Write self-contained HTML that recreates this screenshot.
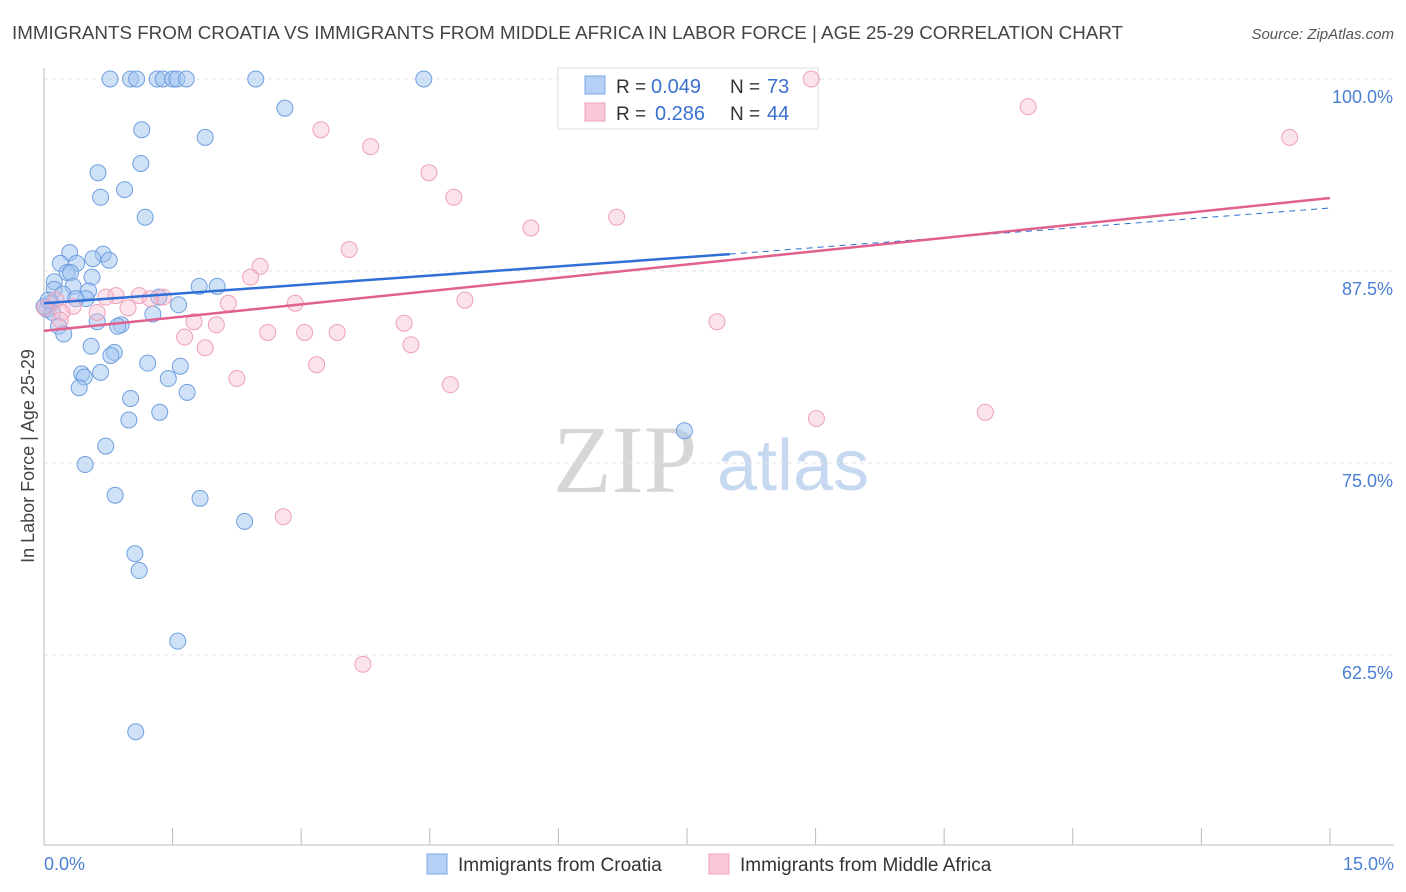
<!DOCTYPE html>
<html><head><meta charset="utf-8"><style>
body{margin:0;background:#fff;font-family:"Liberation Sans",sans-serif;}
svg{display:block}
</style></head><body>
<svg width="1406" height="892" viewBox="0 0 1406 892" xmlns="http://www.w3.org/2000/svg">
<text x="12" y="39" font-size="18.8" fill="#444">IMMIGRANTS FROM CROATIA VS IMMIGRANTS FROM MIDDLE AFRICA IN LABOR FORCE | AGE 25-29 CORRELATION CHART</text>
<text x="1394" y="39" font-size="15" fill="#555" font-style="italic" text-anchor="end">Source: ZipAtlas.com</text>
<g>
<text x="553" y="492" font-family="Liberation Serif,serif" font-size="96" fill="#d6d6d6">ZIP</text>
<text x="717" y="490" font-size="72" fill="#c6d9f0">atlas</text>
</g>
<g id="grid"></g>
<g id="axes"></g>
<g>
<rect x="558" y="68" width="260" height="61" fill="#fff" stroke="#ddd"/>
<rect x="585" y="76" width="20" height="18" fill="#b4d0f4" stroke="#7aa9e6"/>
<rect x="585" y="103" width="20" height="18" fill="#f8c8d8" stroke="#f0a3bd"/>
<text x="616" y="93" font-size="19" fill="#333">R =</text>
<text x="651" y="93" font-size="20" fill="#3a70cf">0.049</text>
<text x="730" y="93" font-size="19" fill="#333">N =</text>
<text x="767" y="93" font-size="20" fill="#3a70cf">73</text>
<text x="616" y="120" font-size="19" fill="#333">R =</text>
<text x="655" y="120" font-size="20" fill="#3a70cf">0.286</text>
<text x="730" y="120" font-size="19" fill="#333">N =</text>
<text x="767" y="120" font-size="20" fill="#3a70cf">44</text>
</g>
<g id="pts"></g>
<g id="trend"></g>
<text transform="translate(34,456) rotate(-90)" font-size="18" fill="#444" text-anchor="middle">In Labor Force | Age 25-29</text>
<text x="44" y="870" font-size="18" fill="#4a7fd4">0.0%</text>
<text x="1394" y="870" font-size="18" fill="#4a7fd4" text-anchor="end">15.0%</text>
<g>
<rect x="427" y="854" width="20" height="20" fill="#b4d0f4" stroke="#7aa9e6"/>
<text x="458" y="871" font-size="19" fill="#333">Immigrants from Croatia</text>
<rect x="709" y="854" width="20" height="20" fill="#f8c8d8" stroke="#f0a3bd"/>
<text x="740" y="871" font-size="19" fill="#333">Immigrants from Middle Africa</text>
</g>
</svg>
<script>
const yTicks=[100,87.5,75,62.5];
const yTickLabels=["100.0%","87.5%","75.0%","62.5%"];
const xTicks=[0,1.5,3,4.5,6,7.5,9,10.5,12,13.5,15];
const blueX=[0.77,1.01,1.08,1.32,1.39,1.50,1.55,1.66,2.47,4.43,2.81,1.14,1.88,1.13,0.63,0.94,0.66,1.18,0.30,0.69,0.57,0.76,0.19,0.38,0.27,0.31,0.56,0.12,0.12,0.34,0.52,0.22,1.81,2.02,1.34,0.49,0.37,0.08,1.57,0.03,0.10,1.27,0.62,0.90,0.86,0.17,0.23,0.55,0.82,0.78,1.21,1.59,0.44,0.66,0.47,1.45,0.41,1.67,1.01,1.35,0.99,0.72,0.48,0.83,1.82,2.34,1.06,1.11,1.56,1.07,7.47,0,0.05];
const blueY=[100,100,100,100,100,100,100,100,100,100,98.1,96.7,96.2,94.5,93.9,92.8,92.3,91.0,88.7,88.6,88.3,88.2,88.0,88.0,87.4,87.4,87.1,86.8,86.3,86.5,86.2,86.0,86.5,86.5,85.8,85.7,85.7,85.4,85.3,85.0,84.8,84.7,84.2,84.0,83.9,83.9,83.4,82.6,82.2,82.0,81.5,81.3,80.8,80.9,80.6,80.5,79.9,79.6,79.2,78.3,77.8,76.1,74.9,72.9,72.7,71.2,69.1,68.0,63.4,57.5,77.1,85.2,85.6];
const pinkX=[8.95,11.48,14.53,3.23,3.81,4.49,4.78,6.68,5.68,3.56,2.52,2.41,0.84,1.11,1.39,1.24,0.72,0.14,2.15,2.93,4.91,0.98,0.34,0.21,0.62,1.75,2.01,4.20,7.85,3.04,3.42,2.61,1.64,1.88,4.28,3.18,2.25,4.74,9.01,10.98,2.79,3.72,0.19,0.01];
const pinkY=[100,98.2,96.2,96.7,95.6,93.9,92.3,91.0,90.3,88.9,87.8,87.1,85.9,85.9,85.8,85.7,85.8,85.6,85.4,85.4,85.6,85.1,85.2,84.8,84.8,84.2,84.0,84.1,84.2,83.5,83.5,83.5,83.2,82.5,82.7,81.4,80.5,80.1,77.9,78.3,71.5,61.9,84.3,85.1];
const blueTrend=[[0,85.4],[8.0,88.6],[15,91.6]];
const pinkTrend=[[0,83.6],[15,92.25]];
const NS="http://www.w3.org/2000/svg";
const xs=v=>44+v*85.73;
const ys=v=>79+(100-v)*15.36;
function mk(tag,attrs,parent){const e=document.createElementNS(NS,tag);for(const k in attrs)e.setAttribute(k,attrs[k]);parent.appendChild(e);return e;}
const grid=document.getElementById('grid'),axes=document.getElementById('axes'),pts=document.getElementById('pts'),trend=document.getElementById('trend');
yTicks.forEach((t,i)=>{
 const l=mk('line',{x1:44,x2:1394,y1:ys(t),y2:ys(t),stroke:'#e2e2e2','stroke-dasharray':'4,4'},grid);
 
 
 const tx=mk('text',{x:1393,y:ys(t)+24,'font-size':18,fill:'#4a7fd4','text-anchor':'end'},axes);
 tx.textContent=yTickLabels[i];
 
 
});
const ax=mk('line',{x1:44,x2:44,y1:68,y2:845,stroke:'#bbb'},axes);


const bx=mk('line',{x1:44,x2:1394,y1:845,y2:845,stroke:'#bbb'},axes);


xTicks.forEach(t=>{
 const l=mk('line',{x1:xs(t),x2:xs(t),y1:828,y2:845,stroke:'#bbb'},axes);
 
 
});
blueX.forEach((v,i)=>{
 const c=mk('circle',{cx:xs(v),cy:ys(blueY[i]),r:8,fill:'rgba(160,196,240,0.5)',stroke:'#6f9fe0','stroke-width':1},pts);
 
 
});
pinkX.forEach((v,i)=>{
 const c=mk('circle',{cx:xs(v),cy:ys(pinkY[i]),r:8,fill:'rgba(246,186,208,0.4)',stroke:'#efa0bb','stroke-width':1},pts);
 
 
});
const b1=mk('line',{x1:xs(blueTrend[0][0]),y1:ys(blueTrend[0][1]),x2:xs(blueTrend[1][0]),y2:ys(blueTrend[1][1]),stroke:'#2f6fd6','stroke-width':2.5},trend);


const b2=mk('line',{x1:xs(blueTrend[1][0]),y1:ys(blueTrend[1][1]),x2:xs(blueTrend[2][0]),y2:ys(blueTrend[2][1]),stroke:'#2f6fd6','stroke-width':1,'stroke-dasharray':'6,5'},trend);


const p1=mk('line',{x1:xs(pinkTrend[0][0]),y1:ys(pinkTrend[0][1]),x2:xs(pinkTrend[1][0]),y2:ys(pinkTrend[1][1]),stroke:'#e0608e','stroke-width':2.5},trend);


</script>
</body></html>
